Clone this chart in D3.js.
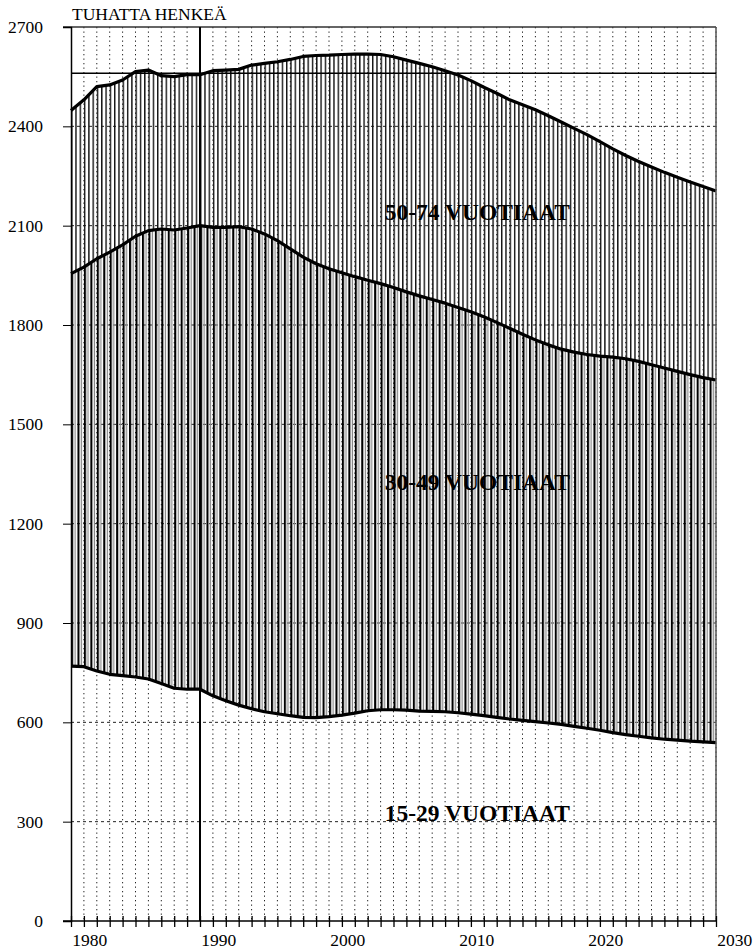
<!DOCTYPE html>
<html>
<head>
<meta charset="utf-8">
<script src="https://cdnjs.cloudflare.com/ajax/libs/d3/7.8.5/d3.min.js"></script>
<style>
    body { margin: 0; background: #fff; }
    svg, svg text { font-family: "Liberation Serif", "DejaVu Serif", serif !important; }
</style>
</head>
<body>
<div class="graph"></div>
<script>
/* Data: thousands of persons by age group, 1979-2029 */
const years = d3.range(1979, 2030);

const ages_15_29 = [770, 768, 755, 745, 741, 737, 731, 717, 703, 700,
                    700, 680, 665, 652, 641, 632, 626, 620, 615, 614,
                    617, 622, 628, 635, 638, 638, 637, 634, 633, 632,
                    629, 625, 620, 615, 610, 606, 602, 598, 594, 588,
                    582, 576, 569, 563, 558, 553, 549, 546, 543, 541, 539];

const ages_30_49 = [1185, 1207, 1245, 1275, 1301, 1331, 1354, 1373, 1384, 1393,
                    1400, 1415, 1430, 1445, 1449, 1443, 1429, 1410, 1390, 1371,
                    1353, 1336, 1318, 1300, 1287, 1275, 1263, 1254, 1244, 1234,
                    1224, 1215, 1205, 1193, 1180, 1166, 1153, 1142, 1133, 1130,
                    1129, 1130, 1134, 1135, 1132, 1127, 1121, 1114, 1107, 1100, 1095];

const ages_50_74 = [493, 505, 520, 505, 498, 497, 485, 463, 463, 463,
                    456, 473, 475, 475, 495, 515, 540, 572, 606, 629,
                    645, 659, 672, 683, 692, 697, 700, 702, 703, 702,
                    702, 698, 693, 692, 690, 693, 695, 692, 686, 676,
                    664, 648, 629, 614, 604, 597, 591, 586, 582, 577, 571];

const series_keys = ['ages_15_29', 'ages_30_49', 'ages_50_74'];
const series_labels = ['15-29 VUOTIAAT', '30-49 VUOTIAAT', '50-74 VUOTIAAT'];
const label_values = [302, 1302, 2117];   // baseline of each label on the value axis
const label_year = 2010.5;

const y_ticks = d3.range(0, 2701, 300);
const x_label_years = [1980, 1990, 2000, 2010, 2020, 2030];
const y_title = 'TUHATTA HENKEÄ';

const reference_year = 1989;
const reference_value = 2560;

/* Layout */
const svg_dimensions = { width: 754, height: 951 };
const plot = { left: 71, right: 716, top: 27, bottom: 921 };
const font_size = 17.5;

const table = years.map((year, i) => ({
    year: year,
    ages_15_29: ages_15_29[i],
    ages_30_49: ages_30_49[i],
    ages_50_74: ages_50_74[i]
}));

const x_scale = d3.scaleLinear().domain([1979, 2029]).range([plot.left, plot.right]);
const y_scale = d3.scaleLinear().domain([0, 2700]).range([plot.bottom, plot.top]);

const stacked = d3.stack().keys(series_keys)(table);
const year_step = x_scale(1980) - x_scale(1979);

let svg = d3.select('.graph')
    .append('svg')
        .attr('width', svg_dimensions.width)
        .attr('height', svg_dimensions.height);

/* Hatch patterns */
let defs = svg.append('defs');

let hatch_top = defs.append('pattern')
    .attr('id', 'hatch_top')
    .attr('patternUnits', 'userSpaceOnUse')
    .attr('x', plot.left)
    .attr('width', year_step / 3)
    .attr('height', 10);
hatch_top.append('rect')
    .attr('x', 0).attr('y', 0)
    .attr('width', 1.4).attr('height', 10)
    .attr('fill', '#111');

let hatch_mid = defs.append('pattern')
    .attr('id', 'hatch_mid')
    .attr('patternUnits', 'userSpaceOnUse')
    .attr('x', plot.left)
    .attr('width', year_step / 2)
    .attr('height', 10);
hatch_mid.append('rect')
    .attr('x', 0).attr('y', 0)
    .attr('width', 2.1).attr('height', 10)
    .attr('fill', '#000');
hatch_mid.append('rect')
    .attr('x', 3.5).attr('y', 0)
    .attr('width', 1.2).attr('height', 10)
    .attr('fill', '#888');

/* Grid */
svg.append('g')
    .selectAll('line')
    .data(years.slice(1))
    .enter().append('line')
        .attr('x1', d => x_scale(d)).attr('x2', d => x_scale(d))
        .attr('y1', plot.top).attr('y2', plot.bottom)
        .attr('stroke', '#222')
        .attr('stroke-width', 1)
        .attr('stroke-dasharray', '1.3,3.2');

svg.append('g')
    .selectAll('line')
    .data(y_ticks.filter(d => d > 0 && d < 2700))
    .enter().append('line')
        .attr('x1', plot.left).attr('x2', plot.right)
        .attr('y1', d => y_scale(d)).attr('y2', d => y_scale(d))
        .attr('stroke', '#222')
        .attr('stroke-width', 1)
        .attr('stroke-dasharray', '3,3');

/* Areas */
let area = d3.area()
    .x(d => x_scale(d.data.year))
    .y0(d => y_scale(d[0]))
    .y1(d => y_scale(d[1]));

svg.append('path')
    .datum(stacked[1])
    .attr('d', area)
    .attr('fill', 'url(#hatch_mid)');

svg.append('path')
    .datum(stacked[2])
    .attr('d', area)
    .attr('fill', 'url(#hatch_top)');

let line = d3.line()
    .x(d => x_scale(d.data.year))
    .y(d => y_scale(d[1]));

svg.append('g')
    .selectAll('path')
    .data(stacked)
    .enter().append('path')
        .attr('d', line)
        .attr('fill', 'none')
        .attr('stroke', '#000')
        .attr('stroke-width', 3.2)
        .attr('stroke-linejoin', 'round');

/* Frame */
svg.append('line')
    .attr('x1', plot.left - 8).attr('x2', plot.right)
    .attr('y1', plot.top).attr('y2', plot.top)
    .attr('stroke', '#333').attr('stroke-width', 1.5);

svg.append('line')
    .attr('x1', plot.right).attr('x2', plot.right)
    .attr('y1', plot.top).attr('y2', plot.bottom)
    .attr('stroke', '#555').attr('stroke-width', 1.5);

/* Reference lines */
svg.append('line')
    .attr('x1', plot.left).attr('x2', plot.right)
    .attr('y1', y_scale(reference_value)).attr('y2', y_scale(reference_value))
    .attr('stroke', '#000').attr('stroke-width', 1.5);

svg.append('line')
    .attr('x1', x_scale(reference_year)).attr('x2', x_scale(reference_year))
    .attr('y1', plot.top).attr('y2', plot.bottom)
    .attr('stroke', '#000').attr('stroke-width', 2);

/* Axes */
let y_axis = d3.axisLeft(y_scale)
    .tickValues(y_ticks)
    .tickSize(8)
    .tickPadding(20)
    .tickFormat(d3.format('d'));

svg.append('g')
    .attr('transform', 'translate(' + plot.left + ',0)')
    .call(y_axis)
    .attr('font-family', null)
    .call(g => g.select('.domain').attr('stroke', '#000').attr('stroke-width', 1.5))
    .call(g => g.selectAll('.tick line').attr('stroke', '#000'))
    .call(g => g.selectAll('.tick text')
        .attr('font-size', font_size)
        .attr('fill', '#000'));

let x_axis = d3.axisBottom(x_scale)
    .tickValues(years)
    .tickSizeInner(12)
    .tickSizeOuter(0)
    .tickFormat('');

svg.append('g')
    .attr('transform', 'translate(0,' + plot.bottom + ')')
    .call(x_axis)
    .call(g => g.select('.domain').remove())
    .call(g => g.selectAll('.tick line')
        .attr('y1', -5).attr('y2', 6)
        .attr('stroke', '#000').attr('stroke-width', 1.3));

svg.append('line')
    .attr('x1', plot.left - 8).attr('x2', plot.right)
    .attr('y1', plot.bottom).attr('y2', plot.bottom)
    .attr('stroke', '#000').attr('stroke-width', 1.5);

svg.append('g')
    .selectAll('text')
    .data(x_label_years)
    .enter().append('text')
        .attr('x', d => x_scale(d + 0.45))
        .attr('y', 946)
        .attr('text-anchor', 'middle')
        .attr('font-size', font_size)
        .attr('fill', '#000')
        .text(d => d);

svg.append('text')
    .attr('x', 72)
    .attr('y', 20)
    .attr('font-size', font_size)
    .attr('fill', '#000')
    .text(y_title);

/* Series labels */
svg.append('g')
    .selectAll('text')
    .data(series_labels)
    .enter().append('text')
        .attr('x', x_scale(label_year))
        .attr('y', (d, i) => y_scale(label_values[i]))
        .attr('text-anchor', 'middle')
        .attr('font-size', 23.5)
        .attr('font-weight', 'bold')
        .attr('fill', '#000')
        .text(d => d);
</script>
</body>
</html>
